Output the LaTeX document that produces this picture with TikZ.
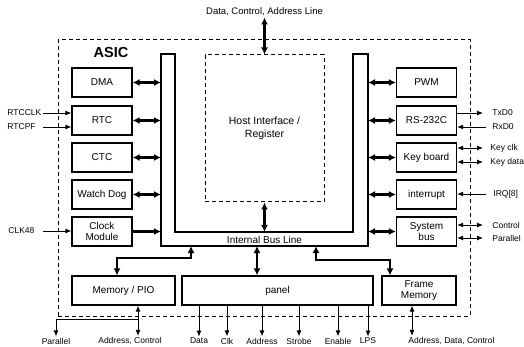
\documentclass[tikz,border=0pt]{standalone}
\usepackage{fontspec}
\setmainfont{Liberation Sans}
\usetikzlibrary{positioning, arrows.meta}

\begin{document}
\begin{tikzpicture}[x=1pt, y=-1pt, >={Latex[length=6pt,width=5pt]}, line width=0.9pt,
  block/.style={draw, line width=1.2pt, minimum width=60pt, minimum height=29pt, inner sep=1pt, align=center, font=\fontsize{10}{11.5}\selectfont},
  sig/.style={inner sep=1pt, font=\fontsize{8.5}{10}\selectfont},
  bus/.style={<->, line width=2.2pt, >={Latex[length=7pt,width=7pt]}}]
\useasboundingbox (0,0) rectangle (524,347);
\node[draw, dashed, line width=1pt, dash pattern=on 4pt off 3pt, minimum width=412pt, minimum height=276pt] at (264,178) (asic) {};
\node[font=\bfseries\fontsize{14.5}{16}\selectfont] at (111,53) (asiclbl) {ASIC};
% internal bus outline
\coordinate (otl) at (161,54);
\coordinate (bl) at (161,246);
\coordinate (br) at (368,246);
\coordinate (otr) at (368,54);
\coordinate (itr) at (353,54);
\coordinate (ibr) at (353,232);
\coordinate (ibl) at (175,232);
\coordinate (itl) at (175,54);
\draw[line width=1.2pt] (otl) -- (bl) -- (br) -- (otr) -- (itr) -- (ibr) -- (ibl) -- (itl) -- cycle;
\node[font=\fontsize{10}{12}\selectfont] at (264.5,239.5) (buslbl) {Internal Bus Line};
\node[draw, dashed, line width=1pt, dash pattern=on 4pt off 3pt, minimum width=119pt, minimum height=147pt, align=center, font=\fontsize{10.5}{13.5}\selectfont] at (264.5,128.5) (host) {Host Interface /\\Register};
\node[font=\fontsize{9.5}{11}\selectfont, inner sep=1pt] at (264.5,12) (extbus) {Data, Control, Address Line};
\draw[bus] (extbus.south) -- (host.north);
\draw[bus] (host.south) -- (host.south |- ibl);
% left blocks
\node[block] at (102,82.5) (dma) {DMA};
\node[block] at (102,120.5) (rtc) {RTC};
\node[block] at (102,157.5) (ctc) {CTC};
\node[block] at (102,194.5) (wdog) {Watch Dog};
\node[block] at (102,231.5) (clkmod) {Clock\\Module};
\draw[bus] (dma.east) -- (dma.east -| bl);
\draw[bus] (rtc.east) -- (rtc.east -| bl);
\draw[bus] (ctc.east) -- (ctc.east -| bl);
\draw[bus] (wdog.east) -- (wdog.east -| bl);
\draw[bus, ->] (clkmod.east) -- (clkmod.east -| bl);
% right blocks
\node[block] at (426.5,82.5) (pwm) {PWM};
\node[block] at (426.5,120.5) (uart) {RS-232C};
\node[block] at (426.5,157.5) (kbd) {Key board};
\node[block] at (426.5,194.5) (intr) {interrupt};
\node[block] at (426.5,231.5) (sysbus) {System\\bus};
\draw[bus] (pwm.west -| br) -- (pwm.west);
\draw[bus] (uart.west -| br) -- (uart.west);
\draw[bus] (kbd.west -| br) -- (kbd.west);
\draw[bus] (intr.west -| br) -- (intr.west);
\draw[bus] (sysbus.west -| br) -- (sysbus.west);
% bottom blocks
\node[block, minimum width=103pt] at (123.5,290.5) (mem) {Memory / PIO};
\node[block, minimum width=191pt] at (277.5,290.5) (panel) {panel};
\node[block, minimum width=74pt] at (419,290.5) (fmem) {Frame\\Memory};
\coordinate (mtap) at (191,258);
\coordinate (mdrop) at (117,0);
\coordinate (ptap) at (257,0);
\coordinate (ftap) at (316,260);
\coordinate (fdrop) at (390,0);
\draw[bus] (mtap |- bl) -- (mtap) -| (mdrop |- mem.north);
\draw[bus] (ptap |- bl) -- (ptap |- panel.north);
\draw[bus] (ftap |- bl) -- (ftap) -| (fdrop |- fmem.north);
% left inputs
\coordinate (lin) at (43,0);
\node[sig, anchor=west] at (6,113) (rtcclk) {RTCCLK};
\node[sig, anchor=west] at (6,127) (rtcpf) {RTCPF};
\node[sig, anchor=west] at (7,231) (clkin) {CLK48};
\draw[->] (lin |- rtcclk) -- (rtc.west |- rtcclk);
\draw[->] (lin |- rtcpf) -- (rtc.west |- rtcpf);
\draw[->] (lin |- clkin) -- (clkmod.west |- clkin);
% right signals
\coordinate (rout) at (483,0);
\coordinate (rin) at (486,0);
\node[sig, anchor=west] at (491,113) (txd) {TxD0};
\node[sig, anchor=west] at (491,127) (rxd) {RxD0};
\node[sig, anchor=west] at (489,148) (kclk) {Key clk};
\node[sig, anchor=west] at (489,162) (kdata) {Key data};
\node[sig, anchor=west] at (492,194) (irq) {IRQ[8]};
\node[sig, anchor=west] at (491,225) (ctlout) {Control};
\node[sig, anchor=west] at (491,238) (parout) {Parallel};
\draw[->] (uart.east |- txd) -- (rout |- txd);
\draw[->] (rin |- rxd) -- (uart.east |- rxd);
\draw[<->] (kbd.east |- kclk) -- (rout |- kclk);
\draw[<->] (kbd.east |- kdata) -- (rout |- kdata);
\draw[->] (rin |- irq) -- (intr.east |- irq);
\draw[<->] (sysbus.east |- ctlout) -- (rout |- ctlout);
\draw[<->] (sysbus.east |- parout) -- (rout |- parout);
% bottom signals
\coordinate (mac) at (138,0);
\coordinate (pbranch) at (138,319);
\coordinate (fx) at (412,0);
\node[sig] at (56,341) (par) {Parallel};
\node[sig] at (130,341) (addrctl) {Address, Control};
\node[sig] at (199,341) (pdata) {Data};
\node[sig] at (227,341) (pclk) {Clk};
\node[sig] at (262,341) (paddr) {Address};
\node[sig] at (299,341) (pstrobe) {Strobe};
\node[sig] at (338,341) (penable) {Enable};
\node[sig] at (368,341) (plps) {LPS};
\node[sig, anchor=west] at (407,341) (fadc) {Address, Data, Control};
\draw[<->] (mac |- mem.south) -- (mac |- addrctl.north);
\draw[->] (pbranch) -| (par.north);
\draw[->] (pdata.north |- panel.south) -- (pdata.north);
\draw[->] (pclk.north |- panel.south) -- (pclk.north);
\draw[->] (paddr.north |- panel.south) -- (paddr.north);
\draw[->] (pstrobe.north |- panel.south) -- (pstrobe.north);
\draw[->] (penable.north |- panel.south) -- (penable.north);
\draw[->] (plps.north |- panel.south) -- (plps.north);
\draw[<->] (fx |- fmem.south) -- (fx |- fadc.north);
\end{tikzpicture}
\end{document}
